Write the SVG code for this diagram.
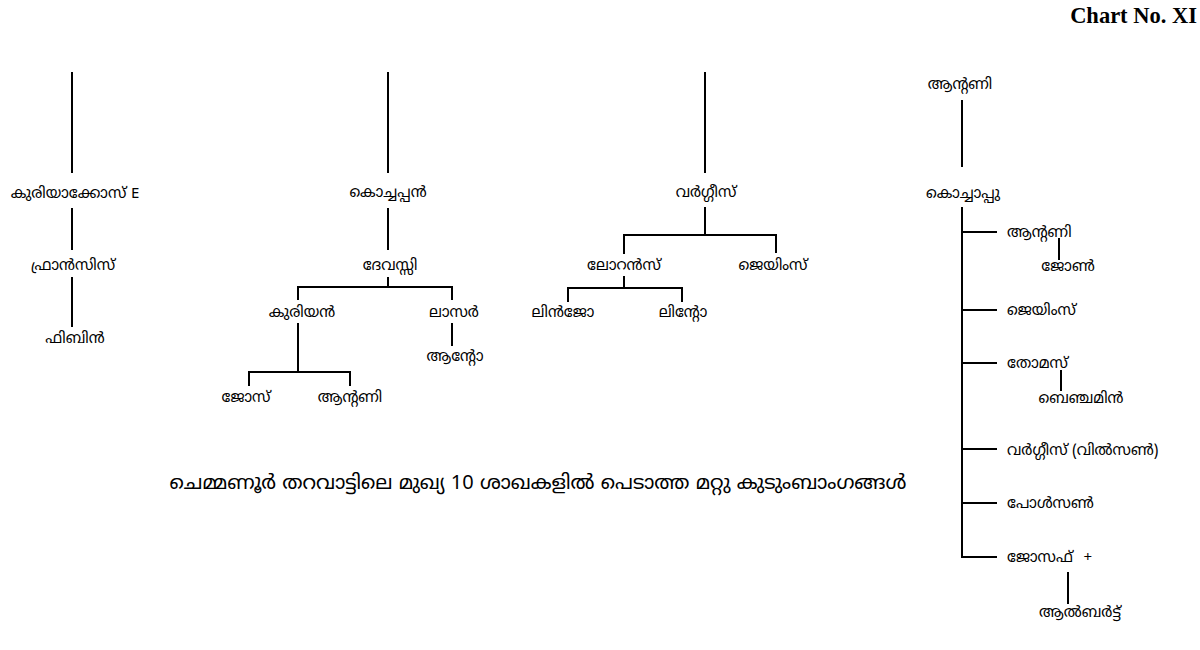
<svg xmlns="http://www.w3.org/2000/svg" width="1200" height="650" viewBox="0 0 1200 650">
<style>
text{font-family:"Noto Sans Malayalam","Noto Sans","DejaVu Sans",sans-serif;font-size:15px;fill:#000}
.c{text-anchor:middle}
.s{text-anchor:start}
.title{font-family:"Liberation Serif",serif;font-weight:bold;font-size:22.5px;text-anchor:end}
.cap{font-size:20px;text-anchor:middle}
#connectors line{stroke:#000;stroke-width:2;fill:none}
</style>
<rect width="1200" height="650" fill="#fff"/>
<text class="title" x="1197" y="23">Chart No. XI</text>
<g id="connectors">
<line x1="72" y1="72" x2="72" y2="173"/>
<line x1="72" y1="208" x2="72" y2="250"/>
<line x1="72" y1="277" x2="72" y2="327"/>
<line x1="388" y1="72" x2="388" y2="173"/>
<line x1="388" y1="208" x2="388" y2="250"/>
<line x1="388" y1="277" x2="388" y2="287"/>
<line x1="297" y1="287" x2="453" y2="287"/>
<line x1="298" y1="287" x2="298" y2="300"/>
<line x1="452" y1="287" x2="452" y2="300"/>
<line x1="298" y1="323" x2="298" y2="372"/>
<line x1="248" y1="372" x2="351" y2="372"/>
<line x1="249" y1="372" x2="249" y2="386"/>
<line x1="350" y1="372" x2="350" y2="386"/>
<line x1="452" y1="323" x2="452" y2="346"/>
<line x1="705" y1="72" x2="705" y2="173"/>
<line x1="705" y1="207" x2="705" y2="235"/>
<line x1="623" y1="235" x2="777" y2="235"/>
<line x1="624" y1="235" x2="624" y2="254"/>
<line x1="776" y1="235" x2="776" y2="253"/>
<line x1="624" y1="276" x2="624" y2="288"/>
<line x1="567" y1="288" x2="683" y2="288"/>
<line x1="568" y1="288" x2="568" y2="302"/>
<line x1="682" y1="288" x2="682" y2="302"/>
<line x1="962" y1="100" x2="962" y2="167"/>
<line x1="962" y1="207" x2="962" y2="558"/>
<line x1="962" y1="232" x2="997" y2="232"/>
<line x1="962" y1="310" x2="997" y2="310"/>
<line x1="962" y1="363" x2="997" y2="363"/>
<line x1="962" y1="449" x2="997" y2="449"/>
<line x1="962" y1="503" x2="997" y2="503"/>
<line x1="961" y1="557" x2="997" y2="557"/>
<line x1="1059" y1="238" x2="1059" y2="260"/>
<line x1="1061" y1="370" x2="1061" y2="391"/>
<line x1="1068" y1="572" x2="1068" y2="604"/>
</g>
<g id="n-kuriakose"><text class="c" x="75" y="198">കുരിയാക്കോസ് E</text></g>
<g id="n-francis"><text class="c" x="73" y="270">ഫ്രാൻസിസ്</text></g>
<g id="n-fibin"><text class="c" x="75" y="343">ഫിബിൻ</text></g>
<g id="n-kochappan"><text class="c" x="388" y="197">കൊച്ചപ്പൻ</text></g>
<g id="n-devassy"><text class="c" x="390" y="270">ദേവസ്സി</text></g>
<g id="n-kurian"><text class="c" x="302" y="317">കുരിയൻ</text></g>
<g id="n-lasar"><text class="c" x="454" y="317">ലാസർ</text></g>
<g id="n-antony2"><text class="c" x="455" y="361">ആന്റോ</text></g>
<g id="n-jose"><text class="c" x="246" y="402">ജോസ്</text></g>
<g id="n-antony1"><text class="c" x="350" y="402">ആന്റണി</text></g>
<g id="n-varghese"><text class="c" x="706" y="197">വർഗ്ഗീസ്</text></g>
<g id="n-lorance"><text class="c" x="624" y="270">ലോറൻസ്</text></g>
<g id="n-james"><text class="c" x="773" y="270">ജെയിംസ്</text></g>
<g id="n-linjo"><text class="c" x="563" y="317">ലിൻജോ</text></g>
<g id="n-linto"><text class="c" x="683" y="317">ലിന്റോ</text></g>
<g id="n-antony-top"><text class="c" x="960" y="89">ആന്റണി</text></g>
<g id="n-kochappu"><text class="c" x="963" y="198">കൊച്ചാപ്പു</text></g>
<g id="n-antony3"><text class="s" x="1007" y="237">ആന്റണി</text></g>
<g id="n-john"><text class="c" x="1068" y="271">ജോൺ</text></g>
<g id="n-james2"><text class="s" x="1007" y="315">ജെയിംസ്</text></g>
<g id="n-thomas"><text class="s" x="1007" y="368">തോമസ്</text></g>
<g id="n-benjamin"><text class="c" x="1081" y="403">ബെഞ്ചമിൻ</text></g>
<g id="n-varghese2"><text class="s" x="1007" y="455">വർഗ്ഗീസ് (വിൽസൺ)</text></g>
<g id="n-paulson"><text class="s" x="1007" y="508">പോൾസൺ</text></g>
<g id="n-joseph"><text class="s" x="1007" y="562">ജോസഫ് <tspan dx="6">+</tspan></text></g>
<g id="n-albert"><text class="c" x="1080" y="617">ആൽബർട്ട്</text></g>
<text class="cap" x="538" y="489">ചെമ്മണൂർ തറവാട്ടിലെ മുഖ്യ 10 ശാഖകളിൽ പെടാത്ത മറ്റു കുടുംബാംഗങ്ങൾ</text>
</svg>
